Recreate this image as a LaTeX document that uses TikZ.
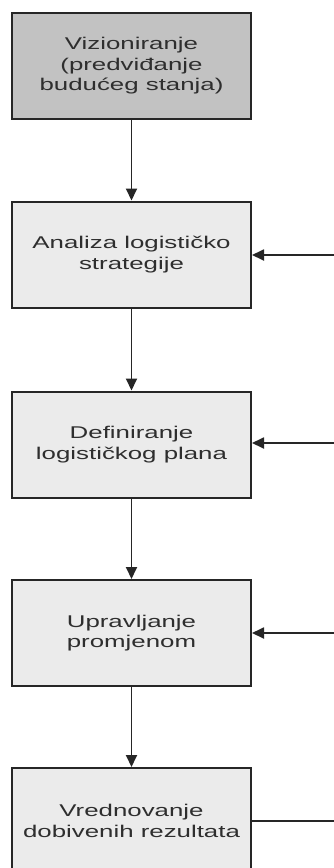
\documentclass[tikz,border=0pt]{standalone}
\usepackage{fontspec}
\setmainfont{Liberation Sans}[FakeStretch=1.52]
\usetikzlibrary{arrows.meta}
\begin{document}
\begin{tikzpicture}[x=1pt,y=-1pt,
  boxstyle/.style={draw=black!85, line width=2pt, fill=black!8, minimum width=239pt, minimum height=106pt,
    inner sep=0pt, align=center, font=\fontsize{17}{20.5}\selectfont, text=black!82},
  darkbox/.style={boxstyle, fill=black!24},
  link/.style={draw=black!85, line width=1.8pt, -{Triangle[length=12pt,width=11pt]}},
  plainlink/.style={draw=black!85, line width=1.8pt}]
\useasboundingbox (0,0) rectangle (334,868);
\clip (0,0) rectangle (334,868);
\fill[white] (0,0) rectangle (334,868);
\node[darkbox] (b1) at (131.5,66) {Vizioniranje\\(predviđanje\\budućeg stanja)};
\node[boxstyle] (b2) at (131.5,254.5) {Analiza logističko\\strategije};
\node[boxstyle] (b3) at (131.5,444.5) {Definiranje\\logističkog plana};
\node[boxstyle] (b4) at (131.5,633) {Upravljanje\\promjenom};
\node[boxstyle] (b5) at (131.5,821) {Vrednovanje\\dobivenih rezultata};
\draw[link] (b1) -- (b2);
\draw[link] (b2) -- (b3);
\draw[link] (b3) -- (b4);
\draw[link] (b4) -- (b5);
\coordinate (fbbot) at (342,821);
\coordinate (fbtop) at (342,255);
\draw[plainlink] (b5.east) -- (fbbot) -- (fbtop);
\draw[link] (fbtop) -- (b2.east |- fbtop);
\draw[link] (342,443) coordinate (fb3) -- (b3.east |- fb3);
\draw[link] (342,633) coordinate (fb4) -- (b4.east |- fb4);
\end{tikzpicture}
\end{document}
